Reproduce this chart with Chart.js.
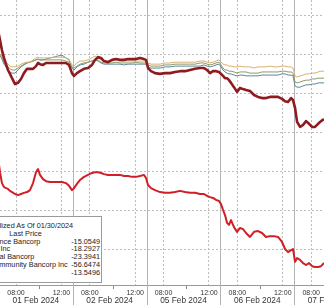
<!DOCTYPE html>
<html lang="en">
<head>
  <meta charset="UTF-8">
  <title>Regional banks, normalized</title>
  <script src="https://cdn.jsdelivr.net/npm/chart.js"></script>
  <style>
    body {
      margin: 0;
      background: #fff;
      overflow: hidden;
      font-family: 'Liberation Sans', Arial, sans-serif;
    }
    #wrap {
      position: relative;
      width: 324px;
      height: 305px;
      overflow: hidden;
    }
    #legendBox {
      position: absolute;
      left: -50px;
      top: 216px;
      width: 152px;
      height: 67px;
      box-sizing: border-box;
      border: 1px solid #9a9a9a;
      background: #fff;
      padding: 5px 1px 0 0;
      font-size: 7.3px;
      line-height: 7.8px;
      color: #222;
      white-space: nowrap;
    }
    .hdr { text-align: center; height: 7.8px; }
    .row { display: flex; height: 7.8px; align-items: center; }
    .sw { width: 4px; height: 2px; margin: 0 1px; flex: none; }
    .nm { flex: 1; }
    .val { text-align: right; }
  </style>
</head>
<body>
  <div id="wrap">
    <canvas id="chart"></canvas>
    <div id="legendBox"></div>
  </div>

  <script>
    // trading hours since 01 Feb 06:30 (sessions 06:30-13:00, weekend skipped)
    const sessionHours = [
      -0.18, 0.09, 0.26, 0.44, 0.62, 0.79, 0.97, 1.15, 1.41, 1.67,
      1.94, 2.20, 2.47, 2.73, 3.00, 3.26, 3.44, 3.61, 3.88, 4.14,
      4.49, 4.85, 5.20, 5.55, 5.90, 6.17, 6.43, 6.61, 6.87, 7.14,
      7.49, 7.84, 8.19, 8.46, 8.72, 8.99, 9.25, 9.60, 9.96, 10.31,
      10.66, 11.01, 11.37, 11.72, 12.07, 12.42, 12.78, 12.95, 13.13, 13.39,
      13.74, 14.19, 14.63, 15.07, 15.51, 15.95, 16.39, 16.83, 17.27, 17.71,
      18.06, 18.33, 18.59, 18.85, 19.12, 19.38, 19.56, 19.74, 19.91, 20.09,
      20.26, 20.44, 20.70, 20.97, 21.23, 21.50, 21.76, 22.11, 22.47, 22.82,
      23.17, 23.52, 23.88, 24.23, 24.58, 24.93, 25.20, 25.46, 25.73, 25.90,
      26.08, 26.26, 26.52, 26.78, 27.05, 27.31, 27.58, 27.84, 28.11, 28.37,
      28.63
    ];

    const valleyNational = [
      -2.6, -6.4, -9.0, -11.0, -12.6, -14.1, -15.1, -16.2, -17.7, -17.4,
      -16.4, -14.9, -13.8, -13.8, -13.8, -13.1, -12.3, -12.6, -12.8, -12.3,
      -12.3, -12.3, -12.3, -12.3, -12.3, -12.8, -14.9, -15.6, -14.9, -14.4,
      -13.8, -13.6, -12.8, -11.5, -10.8, -11.0, -11.8, -12.1, -11.5, -11.3,
      -11.5, -11.5, -11.3, -11.3, -11.3, -11.0, -11.3, -11.5, -13.6, -14.4,
      -14.9, -15.1, -14.9, -14.9, -14.6, -14.4, -14.4, -14.1, -13.8, -13.6,
      -13.6, -14.1, -14.9, -14.4, -14.4, -14.6, -15.1, -15.6, -16.2, -16.2,
      -16.7, -17.4, -18.5, -19.7, -18.7, -19.0, -19.2, -19.5, -20.5, -21.0,
      -21.3, -21.3, -21.0, -21.0, -21.0, -21.5, -22.1, -22.3, -21.3, -21.8,
      -23.8, -27.4, -28.7, -28.2, -27.2, -27.9, -28.7, -28.7, -27.9, -27.2,
      -26.7
    ];

    const nycb = [
      -34.6, -40.3, -43.1, -44.1, -44.4, -44.6, -45.1, -45.4, -45.9, -46.2,
      -45.9, -45.6, -45.4, -44.9, -43.1, -40.3, -39.5, -41.0, -42.1, -42.6,
      -42.8, -42.8, -42.8, -42.8, -43.1, -43.8, -44.9, -44.4, -43.3, -42.3,
      -41.5, -41.0, -40.5, -40.3, -40.3, -40.5, -40.8, -41.0, -41.0, -41.0,
      -41.0, -41.3, -41.3, -41.5, -41.5, -41.3, -41.0, -41.8, -43.6, -44.4,
      -44.9, -45.4, -45.6, -45.6, -45.4, -45.1, -45.4, -45.6, -45.6, -45.9,
      -45.9, -46.4, -46.7, -46.9, -47.4, -47.7, -48.5, -50.0, -51.3, -53.3,
      -53.8, -52.6, -54.4, -55.6, -54.6, -54.9, -55.9, -56.9, -55.6, -55.4,
      -55.9, -56.9, -56.7, -56.7, -56.9, -58.2, -60.0, -60.8, -60.3, -60.0,
      -63.3, -62.3, -62.8, -63.6, -64.1, -63.6, -64.4, -64.6, -64.6, -64.4,
      -63.6
    ];

    const westernAlliance = [
      -9.0, -10.0, -10.5, -11.3, -12.1, -12.6, -13.1, -13.3, -13.3, -13.1,
      -12.6, -12.3, -12.1, -12.1, -11.5, -11.0, -10.8, -11.0, -11.0, -11.0,
      -11.0, -10.8, -10.8, -10.8, -11.0, -11.3, -12.8, -13.1, -12.3, -11.8,
      -11.8, -11.5, -11.0, -10.5, -11.0, -11.5, -11.8, -11.8, -11.8, -11.5,
      -11.8, -11.8, -11.8, -11.8, -11.8, -11.8, -11.8, -11.8, -12.3, -12.6,
      -12.6, -12.6, -12.3, -12.3, -12.1, -12.1, -12.1, -12.1, -12.1, -11.8,
      -11.8, -12.1, -12.3, -12.1, -11.8, -11.5, -12.1, -12.6, -12.8, -12.8,
      -13.1, -13.1, -13.3, -13.3, -13.1, -13.3, -13.3, -13.3, -13.6, -13.3,
      -13.3, -13.3, -13.1, -13.3, -13.3, -13.1, -13.1, -13.3, -13.3, -13.6,
      -15.6, -15.9, -15.6, -15.4, -15.1, -15.1, -14.9, -14.9, -14.6, -14.4,
      -14.4
    ];

    const firstHorizon = [
      -9.0, -10.3, -11.0, -12.1, -12.8, -13.3, -13.8, -14.1, -14.1, -13.6,
      -13.1, -12.6, -12.3, -12.1, -11.8, -11.5, -11.3, -11.5, -11.5, -11.5,
      -11.5, -11.5, -11.5, -11.5, -11.8, -12.1, -13.3, -13.6, -13.1, -12.6,
      -12.3, -12.1, -11.8, -11.5, -11.5, -12.1, -12.3, -12.3, -12.3, -12.1,
      -12.3, -12.3, -12.3, -12.3, -12.1, -12.3, -12.3, -12.3, -12.8, -13.1,
      -13.1, -13.1, -12.8, -12.8, -12.6, -12.6, -12.6, -12.6, -12.6, -12.3,
      -12.3, -12.6, -12.8, -12.6, -12.3, -12.1, -12.8, -13.6, -14.1, -14.1,
      -14.4, -14.4, -14.6, -14.9, -14.6, -14.6, -14.6, -14.9, -14.9, -14.9,
      -14.6, -14.6, -14.6, -14.6, -14.6, -14.4, -14.4, -14.6, -14.6, -14.9,
      -17.2, -17.4, -17.2, -16.9, -16.7, -16.7, -16.4, -16.4, -16.2, -16.2,
      -16.2
    ];

    const kre = [
      -9.0, -10.3, -11.3, -12.6, -13.3, -14.1, -14.6, -14.9, -14.9, -14.1,
      -13.3, -12.8, -12.3, -12.1, -11.8, -11.5, -11.3, -11.5, -11.5, -11.3,
      -11.0, -10.8, -10.5, -10.3, -11.0, -11.5, -13.6, -14.1, -13.3, -12.8,
      -12.6, -12.1, -11.8, -11.5, -11.8, -12.3, -12.6, -12.6, -12.6, -12.6,
      -12.6, -12.8, -12.6, -12.6, -12.6, -12.6, -12.6, -12.6, -13.3, -13.6,
      -13.6, -13.6, -13.3, -13.3, -13.1, -13.1, -13.1, -13.1, -13.1, -13.1,
      -12.8, -13.1, -13.3, -13.1, -12.8, -12.6, -13.3, -14.1, -14.6, -14.9,
      -15.1, -15.1, -15.4, -15.6, -15.4, -15.4, -15.6, -15.6, -15.6, -15.6,
      -15.4, -15.4, -15.4, -15.4, -15.4, -15.1, -15.1, -15.4, -15.4, -15.6,
      -18.2, -18.5, -18.5, -18.2, -17.9, -17.9, -17.7, -17.7, -17.4, -17.4,
      -17.4
    ];

    const tickHours = [1.5, 5.5, 8, 12, 14.5, 18.5, 21, 25, 27.5];
    const tickLabels = ['08:00', '12:00', '08:00', '12:00', '08:00', '12:00', '08:00', '12:00', '08:00'];
    const dayStarts = [0, 6.5, 13, 19.5, 26];
    const dayLabels = ['01 Feb 2024', '02 Feb 2024', '05 Feb 2024', '06 Feb 2024', '07 Feb 2024'];
    const markHours = [3.5, 10, 16.5, 23, 29.5]; // 10:00 marks

    const legendTitle = 'Normalized As Of 01/30/2024';
    const legendNames = ['Western Alliance Bancorp', 'First Horizon Inc', 'Valley National Bancorp',
                         'New York Community Bancorp Inc', 'KRE US'];
    const lastPrices = ['-15.0549', '-18.2927', '-23.3941', '-56.6474', '-13.5496'];
    const legendColors = ['#d8b070', '#8c9a6c', '#8e1b1f', '#d01f26', '#5f8797'];

    // legend box
    let html = `<div class="hdr">${legendTitle}</div><div class="hdr">Last Price</div>`;
    legendNames.forEach((n, i) => {
      html += `<div class="row"><span class="sw" style="background:${legendColors[i]}"></span>` +
              `<span class="nm">${n}</span><span class="val">${lastPrices[i]}</span></div>`;
    });
    document.getElementById('legendBox').innerHTML = html;

    const pts = arr => arr.map((v, i) => ({ x: sessionHours[i], y: v }));

    // day separators, 10:00 marks and date labels under the time axis
    const sessionAxis = {
      id: 'sessionAxis',
      beforeDatasetsDraw(chart) {
        const { ctx, chartArea, scales: { x } } = chart;
        ctx.save();
        ctx.strokeStyle = '#b4b4b4';
        ctx.lineWidth = 1;
        dayStarts.forEach(h => {
          const px = Math.round(x.getPixelForValue(h)) + 0.5;
          ctx.beginPath();
          ctx.moveTo(px, chartArea.top);
          ctx.lineTo(px, chart.height);
          ctx.stroke();
        });
        ctx.strokeStyle = '#888';
        markHours.forEach(h => {
          const px = Math.round(x.getPixelForValue(h)) + 0.5;
          ctx.beginPath();
          ctx.moveTo(px, chartArea.bottom + 1);
          ctx.lineTo(px, chartArea.bottom + 4);
          ctx.stroke();
        });
        ctx.restore();
      },
      afterDraw(chart) {
        const { ctx, chartArea, scales: { x } } = chart;
        ctx.save();
        ctx.font = '8.3px "Liberation Sans", Arial, sans-serif';
        ctx.fillStyle = '#333';
        ctx.textAlign = 'center';
        ctx.textBaseline = 'middle';
        dayStarts.forEach((h, i) => {
          ctx.fillText(dayLabels[i], x.getPixelForValue(h + 3.25), chartArea.bottom + 16);
        });
        ctx.restore();
      }
    };

    new Chart(document.getElementById('chart'), {
      type: 'line',
      data: {
        datasets: [
          { label: legendNames[2], data: pts(valleyNational), borderColor: legendColors[2], borderWidth: 2.6 },
          { label: legendNames[3], data: pts(nycb), borderColor: legendColors[3], borderWidth: 2 },
          { label: legendNames[0], data: pts(westernAlliance), borderColor: legendColors[0], borderWidth: 1 },
          { label: legendNames[1], data: pts(firstHorizon), borderColor: legendColors[1], borderWidth: 1 },
          { label: legendNames[4], data: pts(kre), borderColor: legendColors[4], borderWidth: 1 }
        ]
      },
      options: {
        responsive: true,
        maintainAspectRatio: false,
        animation: false,
        layout: { padding: 0 },
        elements: {
          point: { radius: 0 },
          line: { tension: 0, borderJoinStyle: 'round' }
        },
        plugins: {
          legend: { display: false },
          tooltip: { enabled: false }
        },
        scales: {
          x: {
            type: 'linear',
            min: 0.09,
            max: 28.63,
            afterBuildTicks: s => { s.ticks = tickHours.map(v => ({ value: v })); },
            afterFit: s => { s.height = 20; },
            ticks: {
              autoSkip: false,
              maxRotation: 0,
              padding: 4,
              color: '#333',
              font: { family: '"Liberation Sans", Arial, sans-serif', size: 7 },
              callback: v => tickLabels[tickHours.indexOf(v)]
            },
            grid: { color: '#bdbdbd', drawTicks: false },
            border: { display: true, color: '#9a9a9a', width: 1, dash: [2, 2] }
          },
          y: {
            min: -69.23,
            max: 3.85,
            afterFit: s => { s.width = 0; },
            ticks: { display: false, stepSize: 10, includeBounds: false },
            grid: { color: '#bdbdbd', drawTicks: false },
            border: { display: false, dash: [2, 2] }
          }
        }
      },
      plugins: [sessionAxis]
    });
  </script>
</body>
</html>
